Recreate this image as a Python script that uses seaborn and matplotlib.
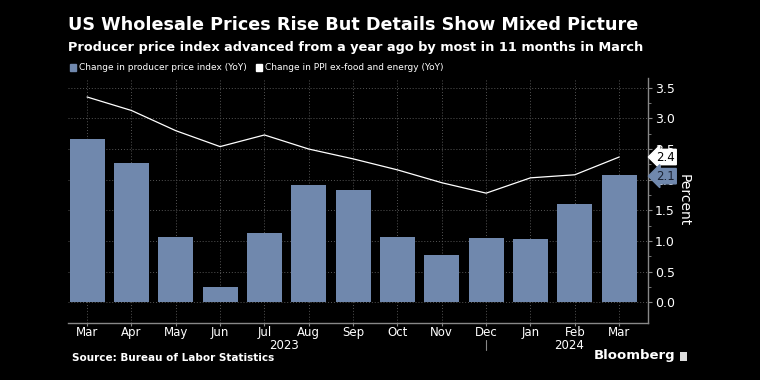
import numpy as np
import pandas as pd
import matplotlib.pyplot as plt
import seaborn as sns
from matplotlib.patches import Patch, FancyBboxPatch

# data
months = ['Mar', 'Apr', 'May', 'Jun', 'Jul', 'Aug', 'Sep', 'Oct', 'Nov', 'Dec', 'Jan', 'Feb', 'Mar']
ppi = [2.67, 2.27, 1.06, 0.25, 1.13, 1.91, 1.83, 1.06, 0.77, 1.05, 1.03, 1.60, 2.08]
ppi_core = [3.35, 3.13, 2.80, 2.54, 2.73, 2.50, 2.34, 2.16, 1.95, 1.78, 2.03, 2.08, 2.37]
years = ['2023', '2024']

bar_col = '#7088ad'
bg = 'black'
fg = 'white'
grid_col = '#555555'

sns.set_style('dark')
plt.rcParams['font.family'] = ['DejaVu Sans']

df = pd.DataFrame({'pos': range(len(months)), 'month': months, 'ppi': ppi, 'core': ppi_core})

fig = plt.figure(figsize=(7.6, 3.8), dpi=100, facecolor=bg)
ax = fig.add_axes([68 / 760, 1 - 323 / 380, 580 / 760, 245 / 380])
ax.set_facecolor(bg)

sns.barplot(data=df, x='pos', y='ppi', color=bar_col, width=0.79, saturation=1,
            edgecolor='none', linewidth=0, ax=ax, zorder=2)
sns.lineplot(data=df, x='pos', y='core', color=fg, linewidth=0.9, ax=ax, zorder=3)

ax.set_xlim(-0.43, 12.65)
ax.set_ylim(-0.34, 3.66)

# axes styling
for s in ['top', 'left']:
    ax.spines[s].set_visible(False)
for s in ['bottom', 'right']:
    ax.spines[s].set_visible(True)
    ax.spines[s].set_color('#888888')
    ax.spines[s].set_linewidth(1)

ax.yaxis.tick_right()
ax.yaxis.set_label_position('right')
ax.set_yticks(np.arange(0, 3.6, 0.5))
ax.set_yticklabels([f'{v:.1f}' for v in np.arange(0, 3.6, 0.5)])
ax.set_yticks(np.arange(0.25, 3.6, 0.5), minor=True)
ax.tick_params(axis='y', which='both', colors='#888888', labelcolor=fg, labelsize=9,
               direction='out', length=3, pad=2, right=True, left=False)
ax.tick_params(axis='y', which='minor', length=2)
ax.set_xticks(range(len(months)))
ax.set_xticklabels(months)
ax.tick_params(axis='x', colors='#888888', labelcolor=fg, labelsize=8.5, length=2, pad=0.5, bottom=True)
ax.set_xlabel('')
ax.set_ylabel('Percent', color=fg, fontsize=10, rotation=270, labelpad=11)

ax.grid(True, color=grid_col, linestyle=(0, (1, 2)), linewidth=0.7, zorder=0)
ax.set_axisbelow(True)

# year labels and separator
xt = ax.get_xaxis_transform()
ax.text(4.45, -0.09, years[0], transform=xt, ha='center', va='center', color=fg, fontsize=8.5)
ax.text(10.86, -0.09, years[1], transform=xt, ha='center', va='center', color=fg, fontsize=8.5)
ax.plot([9, 9], [-0.07, -0.11], transform=xt, color='#888888', lw=0.8, clip_on=False)

# last-value tags
ax.annotate(f'{ppi_core[-1]:.1f}', xy=(1.0, ppi_core[-1]), xycoords=('axes fraction', 'data'),
            xytext=(6, 0), textcoords='offset points', ha='left', va='center', fontsize=8.5, color='black',
            bbox=dict(boxstyle='larrow,pad=0.1', fc=fg, ec=fg), zorder=5)
ax.annotate(f'{ppi[-1]:.1f}', xy=(1.0, ppi[-1]), xycoords=('axes fraction', 'data'),
            xytext=(6, -1), textcoords='offset points', ha='left', va='center', fontsize=8.5, color='#1a2233',
            bbox=dict(boxstyle='larrow,pad=0.1', fc=bar_col, ec=bar_col), zorder=5)

# titles
fig.text(68 / 760, 1 - 25 / 380, 'US Wholesale Prices Rise But Details Show Mixed Picture',
         color=fg, fontsize=12.7, fontweight='bold', va='center', ha='left')
fig.text(68 / 760, 1 - 47 / 380, 'Producer price index advanced from a year ago by most in 11 months in March',
         color=fg, fontsize=9.3, fontweight='bold', va='center', ha='left')

handles = [Patch(color=bar_col, label='Change in producer price index (YoY)'),
           Patch(color=fg, label='Change in PPI ex-food and energy (YoY)')]
fig.legend(handles=handles, loc='center left', bbox_to_anchor=(62 / 760, 1 - 68 / 380), ncol=2,
           frameon=False, fontsize=6.5, labelcolor=fg, handlelength=0.7, handleheight=0.7,
           handletextpad=0.3, columnspacing=1.0)

fig.text(72 / 760, 1 - 358 / 380, 'Source: Bureau of Labor Statistics', color=fg, fontsize=7.5,
         fontweight='bold', va='center', ha='left')
fig.text(675 / 760, 1 - 356 / 380, 'Bloomberg', color=fg, fontsize=9.5, fontweight='semibold',
         va='center', ha='right')
fig.patches.append(FancyBboxPatch((680 / 760, 1 - 361 / 380), 7 / 760, 9 / 380,
                                  boxstyle='round,pad=0', fc='#dddddd', ec='none',
                                  transform=fig.transFigure, figure=fig))

fig.savefig('out.png', dpi=100, facecolor=bg)
